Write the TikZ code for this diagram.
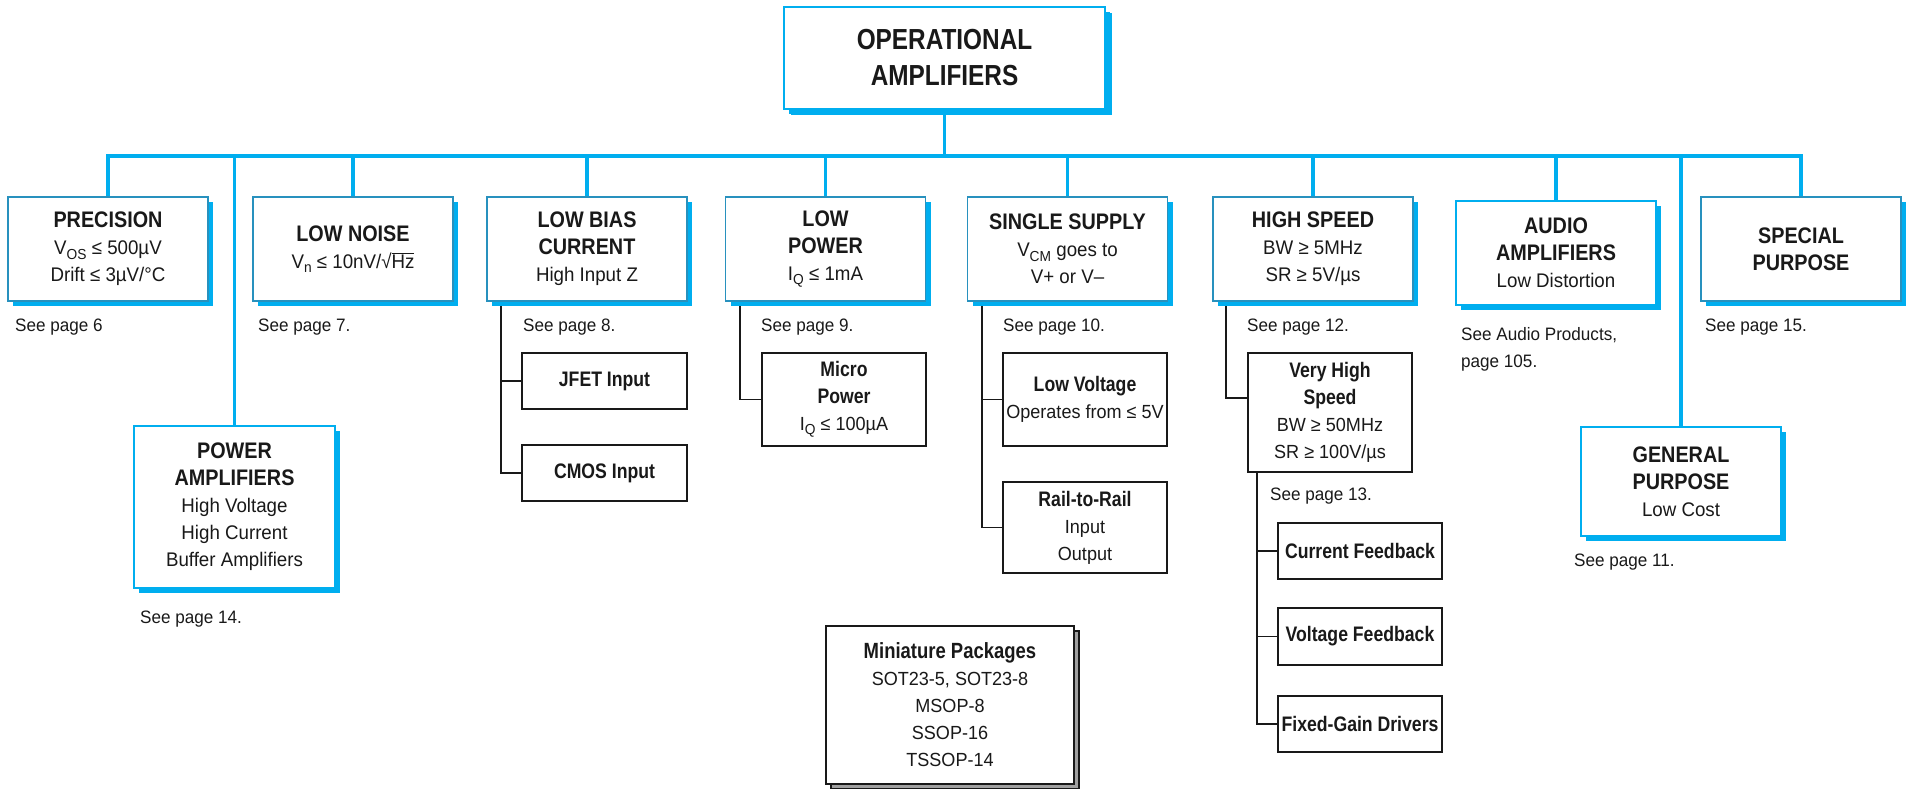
\documentclass[tikz,border=0pt]{standalone}
\usepackage{fontspec}
\setmainfont[FakeStretch=0.95,BoldFeatures={FakeStretch=0.84}]{Liberation Sans}
\newfontfamily\headfam[FakeStretch=0.88]{Liberation Sans}
\usetikzlibrary{shadows,calc}
\pgfdeclarelayer{bg}
\pgfsetlayers{bg,main}

\definecolor{oablue}{RGB}{0,174,239}
\definecolor{edgeblue}{RGB}{40,145,190}
\definecolor{inkgray}{RGB}{25,25,25}
\definecolor{shadegray}{RGB}{160,160,160}

% font helpers
\newcommand\hdfont{\headfam\fontsize{22.5}{27}\selectfont\bfseries}
\newcommand\sbfont{\fontsize{21}{27}\selectfont\bfseries}
\newcommand\rgfont{\fontsize{19.7}{27}\selectfont}
\newcommand\srfont{\fontsize{19}{27}\selectfont}
\newcommand\notefont{\fontsize{18}{27}\selectfont}
\newcommand\lo[1]{\raisebox{-4.5pt}{\fontsize{14.5}{14}\selectfont #1}}
\newcommand\ovl[1]{$\overline{\mbox{#1}}$}

\tikzset{
  x=1pt, y=-1pt,
  base/.style={inner sep=0pt, align=center, text=inkgray, font=\rgfont},
  catbox/.style={base, draw=edgeblue, line width=1.3pt, fill=white,
    minimum width=200pt, minimum height=104pt,
    drop shadow={shadow xshift=5pt, shadow yshift=-5pt, fill=oablue, opacity=1}},
  litebox/.style={catbox, draw=oablue},
  subbox/.style={base, font=\srfont, draw=inkgray, line width=1.3pt, fill=white,
    minimum width=164pt},
  note/.style={inner sep=0pt, anchor=base west, text=inkgray, font=\notefont, align=left},
  bluewire/.style={draw=oablue, line width=3.3pt},
  treewire/.style={draw=inkgray, line width=1.8pt},
}

\begin{document}
\begin{tikzpicture}
\useasboundingbox (0,0) rectangle (1907,788);

% root
\node[litebox, minimum width=321pt, minimum height=102pt,
      drop shadow={shadow xshift=7pt, shadow yshift=-6pt, fill=oablue, opacity=1},
      font=\fontsize{29}{36}\selectfont\bfseries] (top) at (944.5,58)
  {OPERATIONAL\\AMPLIFIERS};

% first row of categories
\node[catbox] (prec) at (108,249)
  {{\hdfont PRECISION}\\V\lo{OS} ≤ 500µV\\Drift ≤ 3µV/°C};
\node[catbox] (noise) at (353,249)
  {{\hdfont LOW NOISE}\\V\lo{n} ≤ 10nV/√\ovl{Hz}};
\node[catbox] (bias) at (587,249)
  {{\hdfont LOW BIAS}\\{\hdfont CURRENT}\\High Input Z};
\node[catbox] (lpow) at (825.5,249)
  {{\hdfont LOW}\\{\hdfont POWER}\\I\lo{Q} ≤ 1mA};
\node[catbox] (single) at (1067.5,249)
  {{\hdfont SINGLE SUPPLY}\\V\lo{CM} goes to\\V+ or V–};
\node[catbox] (hspeed) at (1313,249)
  {{\hdfont HIGH SPEED}\\BW ≥ 5MHz\\SR ≥ 5V/µs};
\node[litebox] (audio) at (1556,253)
  {{\hdfont AUDIO}\\{\hdfont AMPLIFIERS}\\Low Distortion};
\node[catbox] (spec) at (1801,249)
  {{\hdfont SPECIAL}\\{\hdfont PURPOSE}};

% lower categories
\node[litebox, minimum width=201pt, minimum height=162pt] (power) at (234.5,507)
  {{\hdfont POWER}\\{\hdfont AMPLIFIERS}\\High Voltage\\High Current\\Buffer Amplifiers};
\node[litebox, minimum height=109pt] (general) at (1681,481.5)
  {{\hdfont GENERAL}\\{\hdfont PURPOSE}\\Low Cost};

% sub-families
\node[subbox, minimum width=165pt, minimum height=56pt, font=\sbfont] (jfet) at (604.5,381) {JFET Input};
\node[subbox, minimum width=165pt, minimum height=56pt, font=\sbfont] (cmos) at (604.5,473) {CMOS Input};
\node[subbox, minimum height=93pt] (micro) at (844,399.5)
  {{\sbfont Micro}\\{\sbfont Power}\\I\lo{Q} ≤ 100µA};
\node[subbox, minimum height=93pt] (lowv) at (1085,399.5)
  {{\sbfont Low Voltage}\\Operates from ≤ 5V};
\node[subbox, minimum height=91pt] (rail) at (1085,527.5)
  {{\sbfont Rail-to-Rail}\\Input\\Output};
\node[subbox, minimum height=119pt] (vhs) at (1330,412.5)
  {{\sbfont Very High}\\{\sbfont Speed}\\BW ≥ 50MHz\\SR ≥ 100V/µs};
\node[subbox, minimum height=56pt, font=\sbfont] (cfb) at (1360,551) {Current Feedback};
\node[subbox, minimum height=57pt, font=\sbfont] (vfb) at (1360,636.5) {Voltage Feedback};
\node[subbox, minimum height=56pt, font=\sbfont] (fgd) at (1360,724) {Fixed-Gain Drivers};

% packages
\node[subbox, minimum width=248pt, minimum height=158pt,
      drop shadow={shadow xshift=5pt, shadow yshift=-5pt, fill=shadegray, draw=inkgray, opacity=1}]
  (mini) at (950,705)
  {{\fontsize{22}{27}\selectfont\bfseries Miniature Packages}\\SOT23-5, SOT23-8\\MSOP-8\\SSOP-16\\TSSOP-14};

% page references
\node[note] (n6)  at (15,331)   {See page 6};
\node[note] (n7)  at (258,331)  {See page 7.};
\node[note] (n8)  at (523,331)  {See page 8.};
\node[note] (n9)  at (761,331)  {See page 9.};
\node[note] (n10) at (1003,331) {See page 10.};
\node[note] (n12) at (1247,331) {See page 12.};
\node[note] (n15) at (1705,331) {See page 15.};
\node[note] (n105) at (1461,367) {See Audio Products,\\page 105.};
\node[note] (n13) at (1270,500) {See page 13.};
\node[note] (n14) at (140,623)  {See page 14.};
\node[note] (n11) at (1574,566) {See page 11.};

\begin{pgfonlayer}{bg}
  % blue bus from the root to every category
  \coordinate (bus) at (0,156);
  \draw[bluewire] (prec.north) |- (spec.north |- bus) -- (spec.north);
  \draw[bluewire] (top.south) -- (top.south |- bus);
  \foreach \n in {noise,bias,lpow,single,hspeed,audio,power,general}
    \draw[bluewire] (\n.north) -- (\n.north |- bus);

  % black trees below the categories
  \coordinate (tb) at ($(bias.south west)+(15,0)$);
  \draw[treewire] (tb) |- (cmos.west);
  \draw[treewire] (jfet.west) -- (jfet.west -| tb);

  \coordinate (tp) at ($(lpow.south west)+(15,0)$);
  \draw[treewire] (tp) |- (micro.west);

  \coordinate (ts) at ($(single.south west)+(15,0)$);
  \draw[treewire] (ts) |- (rail.west);
  \draw[treewire] (lowv.west) -- (lowv.west -| ts);

  \coordinate (th) at ($(hspeed.south west)+(14,0)$);
  \coordinate (vin) at ($(vhs.north west)+(0,46)$);
  \draw[treewire] (th) |- (vin);

  \coordinate (tv) at ($(vhs.south west)+(10,0)$);
  \draw[treewire] (tv) |- (fgd.west);
  \draw[treewire] (cfb.west) -- (cfb.west -| tv);
  \draw[treewire] (vfb.west) -- (vfb.west -| tv);
\end{pgfonlayer}
\end{tikzpicture}
\end{document}
